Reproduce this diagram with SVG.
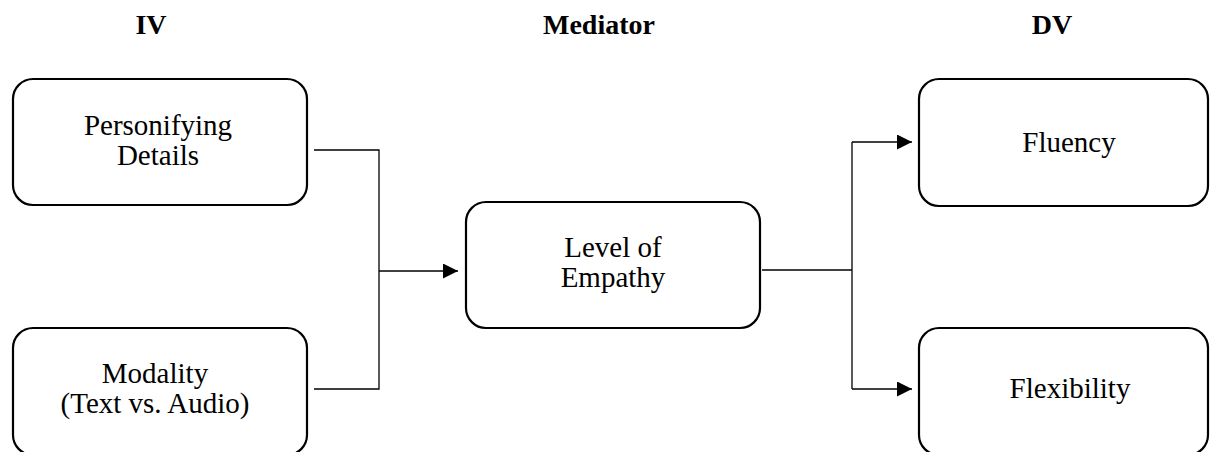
<svg xmlns="http://www.w3.org/2000/svg" width="1210" height="452" viewBox="0 0 1210 452">
<style>
.box{fill:#fff;stroke:#000;stroke-width:2.2}
.t{font-family:"Liberation Serif","Times New Roman",serif;font-size:29px;fill:#000;text-anchor:middle}
.h{font-family:"Liberation Serif","Times New Roman",serif;font-size:28px;font-weight:bold;fill:#000;text-anchor:middle}
.c{fill:none;stroke:#000;stroke-width:1.3}
</style>
<defs>
<marker id="arr" markerWidth="16" markerHeight="16" refX="15" refY="7.5" orient="auto" markerUnits="userSpaceOnUse">
<path d="M0,0 L15,7.5 L0,15 Z" fill="#000"/>
</marker>
</defs>
<rect width="1210" height="452" fill="#fff"/>
<g id="headers">
<text class="h" x="151" y="34">IV</text>
<text class="h" x="599" y="34">Mediator</text>
<text class="h" x="1052" y="34">DV</text>
</g>
<g id="connectors">
<polyline class="c" points="314,150 379,150 379,389 314,389"/>
<line class="c" x1="379" y1="271" x2="458" y2="271" marker-end="url(#arr)"/>
<line class="c" x1="762" y1="270" x2="852" y2="270"/>
<polyline class="c" points="852,142 852,389"/>
<line class="c" x1="852" y1="142" x2="912" y2="142" marker-end="url(#arr)"/>
<line class="c" x1="852" y1="389" x2="912" y2="389" marker-end="url(#arr)"/>
</g>
<g id="personifying">
<rect class="box" x="13" y="79" width="294" height="126" rx="20"/>
<text class="t" x="158" y="135">Personifying</text>
<text class="t" x="158" y="165">Details</text>
</g>
<g id="modality">
<rect class="box" x="13" y="328" width="294" height="127" rx="20"/>
<text class="t" x="155" y="383">Modality</text>
<text class="t" x="155" y="413">(Text vs. Audio)</text>
</g>
<g id="empathy">
<rect class="box" x="466" y="202" width="294" height="126" rx="20"/>
<text class="t" x="613" y="257">Level of</text>
<text class="t" x="613" y="287">Empathy</text>
</g>
<g id="fluency">
<rect class="box" x="919" y="79" width="289" height="127" rx="20"/>
<text class="t" x="1069" y="152">Fluency</text>
</g>
<g id="flexibility">
<rect class="box" x="919" y="328" width="289" height="127" rx="20"/>
<text class="t" x="1070" y="398">Flexibility</text>
</g>
</svg>
